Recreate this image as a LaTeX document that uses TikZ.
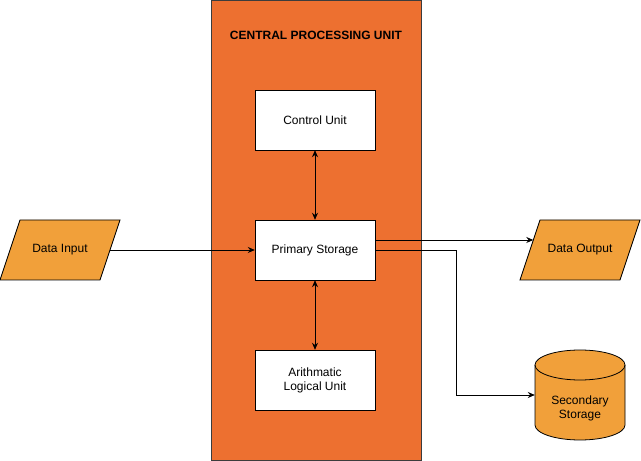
\documentclass[tikz,border=0pt]{standalone}
\usepackage{fontspec}
\setmainfont{Liberation Sans}
\usetikzlibrary{arrows.meta,shapes.geometric}
\definecolor{cpuorange}{RGB}{237,112,48}
\definecolor{dataorange}{RGB}{241,160,58}
\definecolor{cpuborder}{RGB}{60,60,60}
\tikzset{
  box/.style={draw=black, fill=white, minimum width=120pt, minimum height=60pt, inner sep=0pt, align=center, font=\fontsize{12}{14}\selectfont},
  ioshape/.style={draw=black, fill=dataorange, line width=0.8pt},
  conn/.style={draw=black, line width=0.8pt, -{Stealth[length=7pt,width=6pt]}},
  bconn/.style={draw=black, line width=0.8pt, {Stealth[length=7pt,width=6pt]}-{Stealth[length=7pt,width=6pt]}},
  lbl/.style={font=\fontsize{12}{14}\selectfont, align=center, inner sep=0pt},
}
\begin{document}
\begin{tikzpicture}[x=1pt,y=1pt]
\useasboundingbox (0,0) rectangle (641,461);
% CPU container
\node[draw=cpuborder, fill=cpuorange, line width=0.8pt, minimum width=210pt, minimum height=460pt, inner sep=0pt] (cpu) at (316,230.5) {};
\node[lbl, font=\bfseries\fontsize{12}{14}\selectfont] (title) at (316,426) {CENTRAL PROCESSING UNIT};
% units
\node[box] (cu) at (315,341) {Control Unit};
\node[box] (ps) at (315,211) {Primary Storage};
\node[box] (alu) at (315,81) {Arithmatic\\Logical Unit};
% IO parallelograms
\draw[ioshape] (0,181) -- (20,241) -- (120,241) -- (100,181) -- cycle;
\node[lbl] (din) at (60,211) {Data Input};
\draw[ioshape] (520,181) -- (540,241) -- (640,241) -- (620,181) -- cycle;
\node[lbl] (dout) at (580,211) {Data Output};
% cylinder
\path[draw=black, fill=dataorange, line width=0.8pt]
  (535,96) -- (535,36) arc[start angle=180, end angle=360, x radius=45, y radius=15]
  -- (625,96) arc[start angle=0, end angle=180, x radius=45, y radius=15] -- cycle;
\draw[black, line width=0.8pt] (535,96) arc[start angle=180, end angle=360, x radius=45, y radius=15];
\node[lbl, minimum width=90pt, minimum height=90pt] (ss) at (580,66) {};
\node[lbl] (sstext) at (580,53) {Secondary\\Storage};
\coordinate (dinr) at (110,211);
\coordinate (psout1) at (375,221);
\coordinate (psout2) at (375,211);
\coordinate (bend) at (456,66);
\coordinate (doutin) at (533.3,221);
% connectors
\draw[conn] (dinr) -- (ps.west);
\draw[conn] (psout1) -- (doutin);
\draw[conn] (psout2) -| (bend) -- (ss.west);
\draw[bconn] (cu.south) -- (ps.north);
\draw[bconn] (ps.south) -- (alu.north);
\end{tikzpicture}
\end{document}
